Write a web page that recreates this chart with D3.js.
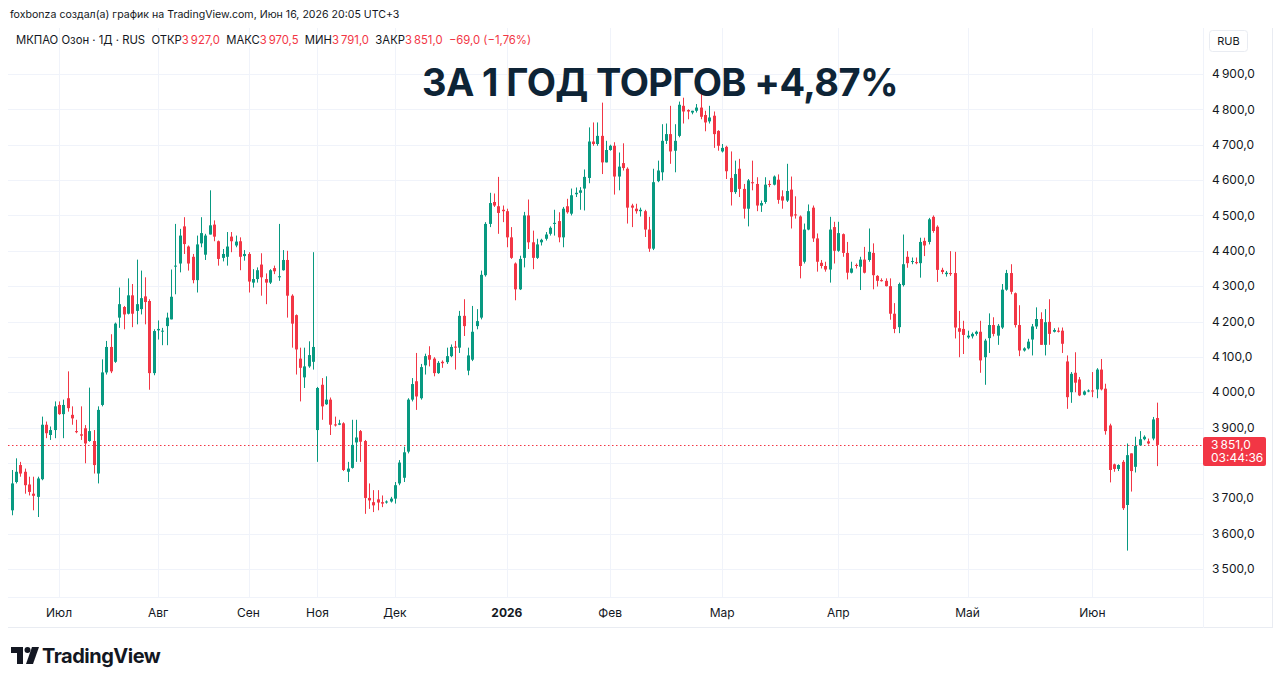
<!DOCTYPE html>
<html>
<head>
<meta charset="utf-8">
<script src="https://cdn.jsdelivr.net/npm/d3@7"></script>
<style>
  body { margin: 0; background: #fff; }
  svg { display: block; font-family: Inter, "Noto Sans", sans-serif; }
  text { white-space: pre; }
</style>
</head>
<body>
<svg id="chart" width="1280" height="683"></svg>
<script>
// [open, high, low, close] per daily bar
const ohlc = [
  [3666,3780,3652,3742],[3746,3813,3742,3775],[3794,3803,3761,3770],[3775,3784,3713,3737],[3739,3761,3708,3718],
  [3713,3761,3666,3707],[3704,3761,3647,3756],[3754,3931,3751,3908],[3908,3917,3870,3884],[3879,3903,3865,3893],
  [3893,3974,3870,3960],[3964,3974,3936,3938],[3938,3979,3870,3964],[3983,4059,3945,3955],[3936,3960,3908,3926],
  [3890,3922,3884,3887],[3881,3960,3865,3877],[3898,3907,3799,3855],[3862,4013,3860,3890],[3862,3893,3770,3794],
  [3770,3960,3742,3950],[3964,4093,3960,4056],[4056,4145,4050,4128],[4128,4164,4054,4059],[4086,4197,4083,4194],
  [4211,4296,4182,4249],[4241,4244,4178,4220],[4222,4322,4220,4274],[4274,4306,4184,4222],[4230,4375,4192,4249],
  [4235,4344,4220,4266],[4271,4325,4192,4255],[4258,4263,4007,4054],[4054,4178,4048,4173],[4175,4203,4149,4179],
  [4172,4182,4133,4174],[4187,4225,4133,4211],[4206,4347,4206,4270],[4356,4476,4277,4358],[4364,4462,4339,4443],
  [4469,4495,4391,4419],[4412,4415,4344,4364],[4383,4391,4308,4317],[4317,4443,4282,4418],[4421,4495,4410,4450],
  [4389,4448,4374,4443],[4446,4571,4446,4472],[4474,4486,4427,4440],[4427,4429,4358,4377],[4380,4405,4370,4391],
  [4383,4453,4358,4412],[4440,4453,4396,4427],[4415,4443,4410,4426],[4427,4438,4345,4383],[4385,4402,4372,4391],
  [4391,4396,4282,4313],[4310,4348,4296,4320],[4320,4353,4310,4345],[4361,4393,4273,4325],[4320,4336,4249,4310],
  [4310,4348,4306,4345],[4351,4358,4334,4342],[4325,4476,4315,4328],[4345,4402,4344,4374],[4374,4400,4211,4273],
  [4273,4277,4126,4194],[4218,4220,4050,4121],[4095,4126,3974,4069],[4042,4126,4012,4073],[4073,4144,4069,4105],
  [4086,4396,4064,4128],[3893,4015,3803,4012],[4021,4040,3922,3960],[3966,4045,3964,3979],[3979,3985,3879,3908],
  [3909,3931,3903,3906],[3908,3922,3907,3912],[3912,3915,3777,3780],[3775,3803,3746,3784],[3786,3922,3784,3851],
  [3858,3922,3803,3872],[3890,3893,3803,3860],[3862,3865,3656,3701],[3701,3742,3670,3694],[3689,3723,3661,3680],
  [3697,3723,3666,3688],[3689,3708,3675,3685],[3688,3694,3685,3691],[3691,3704,3688,3699],[3699,3746,3685,3737],
  [3742,3808,3737,3801],[3758,3846,3746,3830],[3832,3983,3827,3979],[3979,4040,3974,4023],[4031,4111,3950,3988],
  [3983,4080,3979,4071],[4076,4109,4050,4102],[4105,4130,4073,4092],[4095,4099,4045,4054],[4054,4088,4052,4083],
  [4086,4090,4069,4082],[4085,4126,4080,4102],[4102,4135,4099,4128],[4129,4145,4064,4126],[4126,4230,4111,4216],
  [4216,4263,4159,4187],[4061,4126,4048,4104],[4092,4244,4088,4171],[4187,4235,4178,4201],[4211,4344,4206,4332],
  [4331,4481,4327,4476],[4476,4564,4467,4535],[4538,4562,4524,4528],[4526,4609,4448,4507],[4516,4528,4481,4512],
  [4512,4519,4410,4438],[4438,4467,4377,4380],[4364,4367,4260,4291],[4291,4386,4289,4377],[4380,4510,4353,4500],
  [4500,4545,4405,4424],[4424,4457,4348,4380],[4380,4434,4377,4418],[4424,4434,4415,4431],[4434,4453,4429,4446],
  [4448,4469,4443,4465],[4476,4516,4443,4479],[4484,4509,4424,4438],[4438,4524,4410,4519],[4526,4547,4505,4509],
  [4505,4576,4500,4557],[4560,4579,4552,4564],[4564,4580,4516,4571],[4576,4630,4514,4609],[4606,4749,4591,4709],
  [4709,4763,4697,4702],[4702,4763,4697,4725],[4725,4819,4617,4650],[4650,4711,4650,4685],[4685,4700,4683,4697],
  [4697,4707,4559,4610],[4610,4678,4571,4638],[4648,4704,4627,4634],[4632,4636,4477,4522],[4528,4533,4467,4522],
  [4519,4533,4505,4512],[4512,4522,4497,4516],[4512,4516,4439,4460],[4460,4496,4397,4406],[4406,4632,4402,4594],
  [4597,4655,4594,4627],[4622,4758,4599,4711],[4711,4760,4702,4730],[4730,4810,4646,4681],[4683,4758,4622,4711],
  [4725,4822,4721,4813],[4810,4833,4760,4794],[4798,4800,4772,4794],[4791,4796,4786,4796],[4796,4815,4791,4805],
  [4805,4843,4772,4779],[4784,4796,4738,4763],[4766,4810,4760,4777],[4782,4794,4691,4730],[4739,4741,4683,4697],
  [4681,4702,4678,4691],[4694,4697,4603,4625],[4606,4681,4528,4566],[4566,4655,4561,4617],[4632,4660,4552,4575],
  [4575,4589,4491,4519],[4519,4603,4469,4599],[4594,4655,4571,4591],[4589,4608,4512,4528],[4528,4542,4510,4535],
  [4538,4608,4533,4587],[4589,4599,4580,4587],[4587,4613,4585,4610],[4601,4616,4533,4544],[4554,4571,4519,4542],
  [4542,4646,4538,4569],[4573,4610,4463,4497],[4503,4554,4491,4500],[4497,4500,4322,4357],[4369,4477,4364,4460],
  [4460,4531,4458,4512],[4522,4528,4425,4435],[4435,4449,4341,4369],[4366,4374,4350,4357],[4357,4369,4341,4347],
  [4347,4496,4310,4460],[4467,4482,4364,4400],[4400,4482,4397,4450],[4447,4449,4383,4394],[4394,4425,4319,4338],
  [4338,4369,4336,4350],[4360,4364,4350,4357],[4355,4383,4289,4375],[4375,4411,4336,4338],[4374,4463,4369,4397],
  [4394,4421,4291,4331],[4329,4331,4299,4315],[4317,4322,4313,4314],[4315,4322,4299,4300],[4300,4322,4205,4222],
  [4222,4252,4167,4179],[4184,4310,4167,4306],[4303,4446,4299,4362],[4383,4399,4352,4365],[4369,4381,4362,4371],
  [4368,4381,4362,4365],[4365,4437,4324,4425],[4428,4437,4385,4415],[4425,4493,4418,4489],[4496,4500,4451,4456],
  [4468,4472,4312,4346],[4346,4352,4334,4340],[4334,4343,4327,4338],[4337,4399,4329,4334],[4337,4397,4152,4183],
  [4181,4230,4099,4171],[4179,4202,4108,4162],[4155,4174,4151,4160],[4158,4169,4152,4165],[4165,4174,4160,4171],
  [4171,4202,4055,4090],[4099,4151,4021,4146],[4153,4223,4111,4190],[4190,4212,4158,4165],[4160,4193,4134,4188],
  [4183,4306,4179,4290],[4290,4346,4287,4337],[4337,4362,4277,4284],[4280,4282,4183,4190],[4190,4246,4102,4118],
  [4118,4127,4115,4124],[4124,4151,4121,4143],[4149,4193,4104,4186],[4186,4240,4179,4207],[4207,4226,4134,4134],
  [4134,4235,4104,4198],[4199,4263,4134,4165],[4171,4181,4169,4176],[4174,4183,4169,4171],[4174,4183,4111,4137],
  [4087,4104,3953,3986],[4000,4057,3970,4052],[4055,4113,4000,4027],[4036,4043,3989,3991],[3993,4005,3991,4002],
  [4002,4008,4000,4005],[4005,4057,3986,4002],[4008,4068,3983,4064],[4064,4094,4005,4008],[4010,4024,3880,3890],
  [3906,3911,3745,3780],[3796,3798,3775,3783],[3783,3796,3777,3794],[3803,3808,3667,3672],[3681,3855,3552,3822],
  [3827,3827,3719,3777],[3789,3874,3773,3848],[3850,3890,3848,3867],[3867,3878,3864,3874],[3861,3869,3852,3855],
  [3869,3930,3864,3923],[3927,3970.5,3791,3851]
];

const monthLabels = ['Июл', 'Авг', 'Сен', 'Ноя', 'Дек', '2026', 'Фев', 'Мар', 'Апр', 'Май', 'Июн'];
const monthStarts = [11, 34, 55, 71, 89, 115, 139, 165, 192, 222, 251];
const priceTicks = [3500, 3600, 3700, 3800, 3900, 4000, 4100, 4200, 4300, 4400, 4500, 4600, 4700, 4800, 4900];

const lastBar = ohlc[ohlc.length - 1];
const prevClose = 3920;
const timer = '03:44:36';

const UP = '#089981', DOWN = '#f23645', TEXT = '#131722', GRID = '#f0f3fa', BORDER = '#e9ecf2';

const svg = d3.select('#chart');
const W = 1280, H = 683;
const pane = { left: 8, right: 1203, top: 28, bottom: 597 };

const x = d3.scaleLinear().domain([0, ohlc.length - 1]).range([11.7, 1157]);
const y = d3.scaleLinear().domain([3500, 4900]).range([569, 74]);

const ru = d3.formatLocale({ decimal: ',', thousands: '\u202f', grouping: [3], currency: ['', ''] });
const fmt = ru.format(',.1f');
const lastY = y(lastBar[3]);

svg.append('rect').attr('width', W).attr('height', H).attr('fill', '#fff');

// grid
svg.append('g').selectAll('line').data(priceTicks).join('line')
  .attr('x1', pane.left).attr('x2', pane.right)
  .attr('y1', d => Math.round(y(d)) + 0.5).attr('y2', d => Math.round(y(d)) + 0.5)
  .attr('stroke', GRID);

svg.append('g').selectAll('line').data(monthStarts).join('line')
  .attr('x1', d => Math.round(x(d)) + 0.5).attr('x2', d => Math.round(x(d)) + 0.5)
  .attr('y1', pane.top).attr('y2', pane.bottom)
  .attr('stroke', GRID);

// frame
svg.append('line').attr('x1', 1272.5).attr('x2', 1272.5)
  .attr('y1', pane.top).attr('y2', 628).attr('stroke', BORDER);
svg.append('line').attr('x1', pane.left).attr('x2', 1272)
  .attr('y1', 627.5).attr('y2', 627.5).attr('stroke', BORDER);
svg.append('line').attr('x1', pane.right + 0.5).attr('x2', pane.right + 0.5)
  .attr('y1', pane.top).attr('y2', 628).attr('stroke', GRID);
svg.append('line').attr('x1', pane.left).attr('x2', 1272)
  .attr('y1', pane.bottom + 0.5).attr('y2', pane.bottom + 0.5).attr('stroke', GRID);

// last price dotted line
svg.append('line')
  .attr('x1', pane.left).attr('x2', pane.right)
  .attr('y1', Math.round(lastY) + 0.5).attr('y2', Math.round(lastY) + 0.5)
  .attr('stroke', DOWN).attr('stroke-dasharray', '1.5 2.5');

// candles
const candles = svg.append('g').selectAll('g').data(ohlc).join('g')
  .attr('fill', d => d[3] >= d[0] ? UP : DOWN)
  .attr('stroke', d => d[3] >= d[0] ? UP : DOWN);

candles.append('line')
  .attr('x1', (d, i) => Math.round(x(i)) + 0.5).attr('x2', (d, i) => Math.round(x(i)) + 0.5)
  .attr('y1', d => y(d[1])).attr('y2', d => y(d[2]));

candles.append('rect')
  .attr('stroke', 'none')
  .attr('x', (d, i) => Math.round(x(i)) - 1)
  .attr('width', 3)
  .attr('y', d => y(Math.max(d[0], d[3])))
  .attr('height', d => Math.max(1, Math.abs(y(d[0]) - y(d[3]))));

// price axis (labels under the price tag are hidden, as in TradingView)
svg.append('g').selectAll('text').data(priceTicks.filter(d => Math.abs(y(d) - lastY - 6) > 18)).join('text')
  .attr('x', 1212).attr('y', d => y(d)).attr('dy', '0.35em')
  .attr('font-size', 12).attr('fill', TEXT)
  .text(d => fmt(d));

const rub = svg.append('g');
rub.append('rect').attr('x', 1209.5).attr('y', 30.5).attr('width', 38).attr('height', 21).attr('rx', 3)
  .attr('fill', '#fff').attr('stroke', BORDER);
rub.append('text').attr('x', 1228.5).attr('y', 41).attr('dy', '0.35em').attr('text-anchor', 'middle')
  .attr('font-size', 11).attr('fill', TEXT).text('RUB');

const tag = svg.append('g');
tag.append('rect').attr('x', 1203).attr('y', Math.round(lastY) - 8).attr('width', 63).attr('height', 29)
  .attr('rx', 2).attr('fill', DOWN);
tag.append('text').attr('x', 1211).attr('y', lastY).attr('dy', '0.35em')
  .attr('font-size', 12).attr('fill', '#fff').text(fmt(lastBar[3]));
tag.append('text').attr('x', 1211).attr('y', lastY + 13).attr('dy', '0.35em')
  .attr('font-size', 12).attr('fill', '#fff').text(timer);

// time axis
svg.append('g').selectAll('text').data(monthStarts).join('text')
  .attr('x', d => x(d)).attr('y', 613).attr('dy', '0.35em').attr('text-anchor', 'middle')
  .attr('font-size', 12).attr('fill', TEXT)
  .attr('font-weight', (d, i) => monthLabels[i] === '2026' ? 700 : 400)
  .text((d, i) => monthLabels[i]);

// header
svg.append('text').attr('x', 10).attr('y', 14).attr('dy', '0.35em')
  .attr('font-size', 10.6).attr('fill', TEXT)
  .text('foxbonza создал(а) график на TradingView.com, Июн 16, 2026 20:05 UTC+3');

const chg = lastBar[3] - prevClose;
const legend = svg.append('text').attr('x', 16).attr('y', 40).attr('dy', '0.35em')
  .attr('font-size', 11.3).attr('fill', TEXT);
legend.append('tspan').text('МКПАО Озон · 1Д · RUS  ');
[['ОТКР', lastBar[0]], ['МАКС', lastBar[1]], ['МИН', lastBar[2]], ['ЗАКР', lastBar[3]]].forEach(([k, v]) => {
  legend.append('tspan').text(k);
  legend.append('tspan').attr('fill', DOWN).text(fmt(v) + '  ');
});
legend.append('tspan').attr('fill', DOWN)
  .text(fmt(chg).replace('-', '\u2212') + ' (' + ru.format('.2f')(chg / prevClose * 100).replace('-', '\u2212') + '%)');

// title
svg.append('text').attr('x', 660).attr('y', 96)
  .attr('text-anchor', 'middle').attr('font-size', 38).attr('font-weight', 700)
  .attr('letter-spacing', -0.6)
  .attr('fill', '#0e2436')
  .text('ЗА 1 ГОД ТОРГОВ +4,87%');

// logo
const logo = svg.append('g').attr('fill', TEXT);
logo.append('path').attr('d', 'M11,647 H23 V664 H17 V653 H11 Z');
logo.append('circle').attr('cx', 27.5).attr('cy', 650).attr('r', 3);
logo.append('path').attr('d', 'M32,647 H39 L33,664 H26 Z');
logo.append('text').attr('x', 42).attr('y', 656).attr('dy', '0.35em')
  .attr('font-size', 20).attr('font-weight', 700).attr('letter-spacing', -0.5).text('TradingView');
</script>
</body>
</html>
